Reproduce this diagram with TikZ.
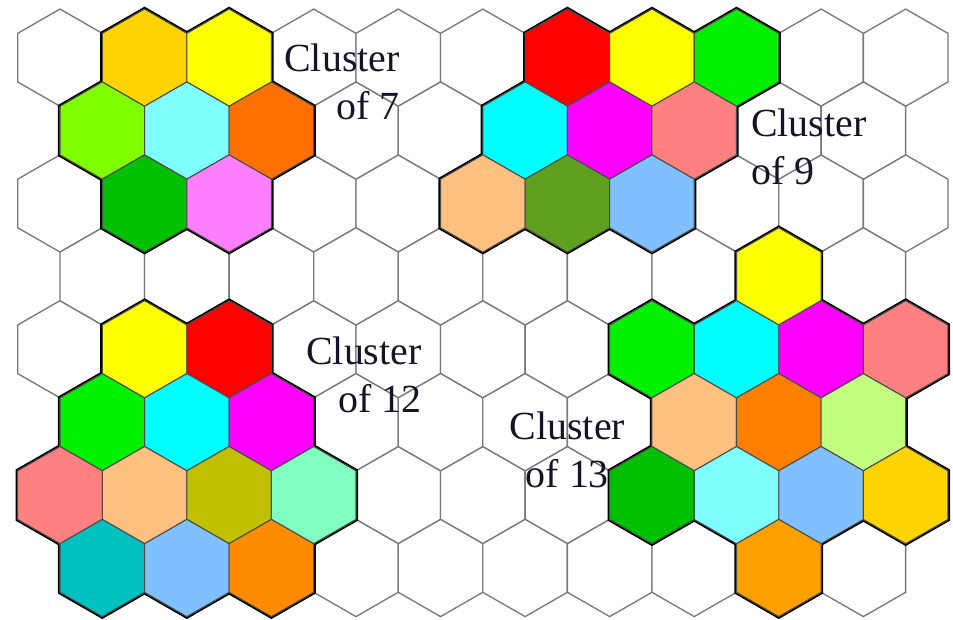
\documentclass[tikz,border=0pt]{standalone}
\usepackage{fontspec}
\setmainfont{Liberation Serif}

\definecolor{cred}{RGB}{255,0,0}
\definecolor{cyel}{RGB}{255,255,0}
\definecolor{ccyan}{RGB}{0,255,255}
\definecolor{cmag}{RGB}{255,0,255}
\definecolor{cgold}{RGB}{255,212,0}
\definecolor{cchart}{RGB}{128,255,0}
\definecolor{cltcyan}{RGB}{128,255,255}
\definecolor{corange}{RGB}{255,112,0}
\definecolor{corangem}{RGB}{255,128,0}
\definecolor{corangeb}{RGB}{255,140,0}
\definecolor{corangec}{RGB}{255,160,0}
\definecolor{cdkgreen}{RGB}{0,192,0}
\definecolor{cviolet}{RGB}{255,128,255}
\definecolor{cgreen}{RGB}{0,240,0}
\definecolor{csalmon}{RGB}{255,128,128}
\definecolor{cpeach}{RGB}{255,192,128}
\definecolor{colive}{RGB}{96,160,32}
\definecolor{colivey}{RGB}{192,192,0}
\definecolor{cltblue}{RGB}{128,192,255}
\definecolor{caqua}{RGB}{128,255,192}
\definecolor{cteal}{RGB}{0,192,192}
\definecolor{cltgreen}{RGB}{192,255,128}
\definecolor{ctext}{RGB}{20,20,40}
\definecolor{cgrid}{RGB}{120,120,120}

% one hexagonal cell around (#1,#2)
\newcommand{\hexcell}[3]{%
  \path[#3] (#1,#2) +(0,2/3) -- +(1,1/3) -- +(1,-1/3) -- +(0,-2/3)
    -- +(-1,-1/3) -- +(-1,1/3) -- cycle;}

\begin{document}
\begin{tikzpicture}[x=0.8456cm, y=1.458cm,
    emptycell/.style={draw=cgrid, line width=0.75pt, fill=white},
    rimcell/.style={draw=black, line width=2.4pt},
    cell/.style={draw=black!70, line width=0.6pt},
    clustertext/.style={inner sep=0pt, text=ctext, font=\fontsize{22.7}{27.5}\selectfont}]

    \useasboundingbox[fill=white] (-1.419,-7.70) rectangle (21.12,0.791);

        % Empty map
        \foreach \y in {0,-2,-4,-6}
            \foreach \x in {0,2,...,20} \hexcell{\x}{\y}{emptycell};
        \foreach \y in {-1,-3,-5,-7}
            \foreach \x in {1,3,...,19} \hexcell{\x}{\y}{emptycell};

        % Clusters
        \def\clustercells{%
            2/0/cgold, 4/0/cyel, 1/-1/cchart, 3/-1/cltcyan, 5/-1/corange,
            2/-2/cdkgreen, 4/-2/cviolet,
            12/0/cred, 14/0/cyel, 16/0/cgreen, 11/-1/ccyan, 13/-1/cmag,
            15/-1/csalmon, 10/-2/cpeach, 12/-2/colive, 14/-2/cltblue,
            2/-4/cyel, 4/-4/cred, 1/-5/cgreen, 3/-5/ccyan, 5/-5/cmag,
            0/-6/csalmon, 2/-6/cpeach, 4/-6/colivey, 6/-6/caqua,
            1/-7/cteal, 3/-7/cltblue, 5/-7/corangeb,
            17/-3/cyel, 14/-4/cgreen, 16/-4/ccyan, 18/-4/cmag, 20/-4/csalmon,
            15/-5/cpeach, 17/-5/corangem, 19/-5/cltgreen,
            14/-6/cdkgreen, 16/-6/cltcyan, 18/-6/cltblue, 20/-6/cgold,
            17/-7/corangec}
        \foreach \x/\y/\c in \clustercells {\hexcell{\x}{\y}{rimcell, fill=\c}}
        \foreach \x/\y/\c in \clustercells {\hexcell{\x}{\y}{cell, fill=\c}}

        % Labels
        \node[clustertext, align=right, anchor=east] (seven) at (8.04,-0.336) {Cluster\\of 7};
        \node[clustertext, align=left, anchor=west] (nine) at (16.34,-1.228) {Cluster\\of 9};
        \node[clustertext, align=right, anchor=east] (twelve) at (8.56,-4.355) {Cluster\\of 12};
        \node[clustertext, align=center] (thirteen) at (12.0,-5.375) {Cluster\\of 13};

\end{tikzpicture}
\end{document}
